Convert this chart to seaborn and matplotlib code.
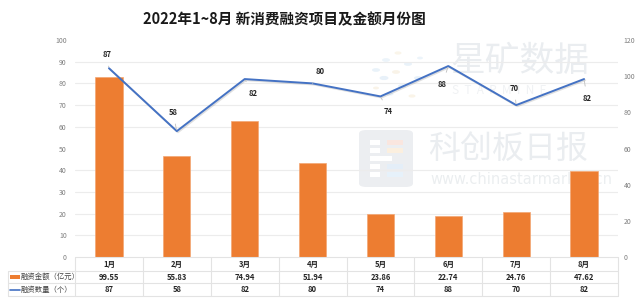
import numpy as np
import pandas as pd
import matplotlib
matplotlib.use("Agg")
import matplotlib.pyplot as plt
import matplotlib.patheffects as pe
from matplotlib.patches import FancyBboxPatch, Rectangle, Circle
import seaborn as sns

months = ["1月", "2月", "3月", "4月", "5月", "6月", "7月", "8月"]
amounts = [99.55, 55.83, 74.94, 51.94, 23.86, 22.74, 24.76, 47.62]
counts = [87, 58, 82, 80, 74, 88, 70, 82]
amount_label = "融资金额（亿元）"
count_label = "融资数量（个）"
title = "2022年1~8月 新消费融资项目及金额月份图"

sns.set_theme(style="white")
plt.rcParams['font.family'] = ['Noto Sans CJK SC', 'DejaVu Sans']

df = pd.DataFrame({"month": months, "amount": amounts, "count": counts})
df["pos"] = np.arange(len(df))

ORANGE = "#ED7D31"
BLUE = "#4472C4"
GRID = "#ececec"
TICK = "#7f7f7f"

fig = plt.figure(figsize=(6.4, 2.98), dpi=100)
fig.patch.set_facecolor("white")

# --- watermark (behind axes) ---
wm = "#eaedf0"
fig.text(450/640, 1-62/298, "星矿数据", fontsize=25, color=wm, va="center", ha="left", zorder=-5)
fig.text(452/640, 1-90/298, "S  T  A  R  M  I  N  E", fontsize=8.5, color="#f0f2f4", va="center", ha="left", zorder=-5)
fig.text(428/640, 1-149/298, "科创板日报", fontsize=23, color=wm, va="center", ha="left", zorder=-5)
fig.text(430/640, 1-180/298, "www.chinastarmarket.cn", fontsize=10.5, color="#ebeef0", va="center", ha="left",
         family="DejaVu Sans", zorder=-5)
logo = FancyBboxPatch((359/640, 1-187/298), 54/640, 57/298, boxstyle="round,pad=0,rounding_size=0.012",
                      transform=fig.transFigure, facecolor="#eceef1", edgecolor="none", zorder=-6)
fig.patches.append(logo)
for (x, y, w, h, c) in [(370, 140, 10, 5, "white"), (370, 148, 10, 5, "white"), (370, 156, 22, 5, "white"),
                        (370, 164, 10, 5, "white"), (370, 172, 10, 5, "white"),
                        (387, 140, 16, 5, "#fae6df"), (387, 148, 16, 5, "#fbefdf"),
                        (387, 164, 16, 5, "#e4eef8"), (387, 172, 16, 5, "#e6f1fa")]:
    fig.patches.append(Rectangle((x/640, 1-(y+h)/298), w/640, h/298, transform=fig.transFigure,
                                 facecolor=c, edgecolor="none", zorder=-5))
for (x, y, r, c) in [(376, 70, 4, "#e9f2f9"), (386, 60, 4, "#ecf4fa"), (398, 53, 3.5, "#faf5ea"),
                     (408, 64, 4, "#e9f2f9"), (384, 78, 4.5, "#e8f1f9"), (396, 72, 4, "#f9f3e8"),
                     (418, 78, 4, "#e8f1f9"), (402, 86, 4, "#e9f2f9"), (390, 94, 3.5, "#ecf4fa"),
                     (412, 96, 3.5, "#faf4e8"), (420, 58, 3, "#ecf4fa"), (376, 88, 3, "#f9f3e8")]:
    fig.patches.append(Circle((x/640, 1-y/298), r/640, transform=fig.transFigure,
                              facecolor=c, edgecolor="none", zorder=-5))

# --- main axes: bars on right scale ---
ax = fig.add_axes([75/640, 1-257/298, 543/640, 217/298])
ax.patch.set_alpha(0)
sns.barplot(data=df, x="pos", y="amount", ax=ax, color=ORANGE, width=0.4, saturation=1,
            native_scale=True, edgecolor="#f3a774", linewidth=0.5)
ax.set_xlim(-0.5, len(months) - 0.5)
ax.set_ylim(0, 120)
ax.set_yticks(np.arange(0, 121, 20))
ax.set_yticks(np.arange(0, 101, 10) * 1.2, minor=True)
ax.grid(which="minor", axis="y", color=GRID, linewidth=0.8)
ax.grid(which="major", axis="y", visible=False)
ax.set_axisbelow(True)
ax.set_xticks([])
ax.set_xlabel("")
ax.set_ylabel("")
for s in ax.spines.values():
    s.set_visible(False)

# --- twin axes: line on left scale ---
ax2 = ax.twinx()
ax2.patch.set_alpha(0)
sns.lineplot(data=df, x="pos", y="count", ax=ax2, color=BLUE, linewidth=1.4,
             path_effects=[pe.SimpleLineShadow(offset=(0.8, -0.8), alpha=0.25, shadow_color="gray"), pe.Normal()])
ax2.set_ylim(0, 100)
ax2.set_xlim(-0.5, len(months) - 0.5)
ax2.set_yticks(np.arange(0, 101, 10))
ax2.set_xticks([])
ax2.set_xlabel("")
ax2.set_ylabel("")
for s in ax2.spines.values():
    s.set_visible(False)

# tick sides: bar scale on right, count scale on left
ax.yaxis.tick_right()
ax.tick_params(axis="y", which="both", left=False, labelleft=False, right=False, length=0,
               labelsize=5, labelcolor=TICK, pad=4)
ax.tick_params(axis="y", which="minor", labelright=False)
ax2.yaxis.tick_left()
ax2.tick_params(axis="y", right=False, labelright=False, length=0, labelsize=5, labelcolor=TICK, pad=6)

# line data labels (offsets in px -> points)
offsets_px = [(-2, 14), (-4, 19), (8, -14), (8, 12), (8, -15), (-6, -18), (-2, 17), (3, -19)]
for i, (c, (dx, dy)) in enumerate(zip(counts, offsets_px)):
    ax2.annotate(str(c), xy=(i, c), xytext=(dx * 0.72, dy * 0.72), textcoords="offset points",
                 ha="center", va="center", fontsize=5.5, fontweight="bold", color="#262626",
                 arrowprops=dict(arrowstyle="-", color="#bfbfbf", lw=0.6, shrinkA=3, shrinkB=1))

# --- data table under the plot ---
tr = ax.get_xaxis_transform()
axt = ax.transAxes
line_kw = dict(color="#e3e3e3", lw=0.8, clip_on=False)
rows_y = [0, -0.0645, -0.12, -0.18]
left_col = -0.123
n = len(months)
ax.plot([-0.5, n - 0.5], [0, 0], transform=tr, **line_kw)
for y in rows_y[1:]:
    ax.plot([left_col, 1], [y, y], transform=axt, **line_kw)
for b in np.arange(n + 1) - 0.5:
    ax.plot([b, b], [0, rows_y[-1]], transform=tr, **line_kw)
ax.plot([left_col, left_col], [rows_y[1], rows_y[-1]], transform=axt, **line_kw)

centers = [(rows_y[k] + rows_y[k + 1]) / 2 for k in range(3)]
for i, m in enumerate(months):
    ax.text(i, centers[0], m, transform=tr, ha="center", va="center", fontsize=5.5,
            fontweight="bold", color="#262626", clip_on=False)
    ax.text(i, centers[1], f"{amounts[i]:.2f}", transform=tr, ha="center", va="center", fontsize=5.5,
            fontweight="bold", color="#262626", clip_on=False)
    ax.text(i, centers[2], str(counts[i]), transform=tr, ha="center", va="center", fontsize=5.5,
            fontweight="bold", color="#262626", clip_on=False)

# legend keys inside table
ax.add_patch(Rectangle((-0.1195, centers[1] - 0.009), 0.0185, 0.018, transform=axt,
                       facecolor=ORANGE, edgecolor="none", clip_on=False))
ax.plot([-0.1195, -0.101], [centers[2], centers[2]], transform=axt, color=BLUE, lw=1.2, clip_on=False)
ax.text(-0.1, centers[1], amount_label, transform=axt, ha="left", va="center", fontsize=5.3,
        color="#404040", clip_on=False)
ax.text(-0.1, centers[2], count_label, transform=axt, ha="left", va="center", fontsize=5.3,
        color="#404040", clip_on=False)

fig.text(284/640, 1-19/298, title, ha="center", va="center", fontsize=10.5, fontweight="bold", color="#1a1a1a")

fig.savefig("out.png", dpi=100)
